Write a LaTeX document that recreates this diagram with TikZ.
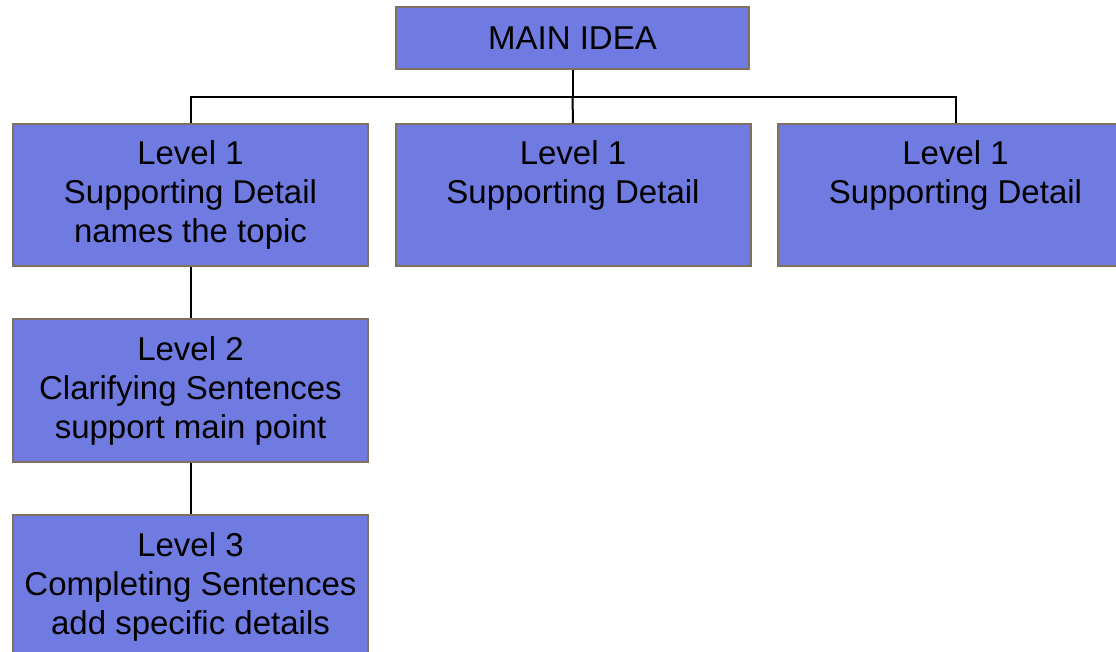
\documentclass[tikz,border=0pt]{standalone}
\usepackage{fontspec}
\setmainfont{Liberation Sans}
\definecolor{boxfill}{RGB}{111,123,224}
\definecolor{boxline}{RGB}{128,112,96}
\begin{document}
\begin{tikzpicture}[x=1pt,y=-1pt,
  orgbox/.style={draw=boxline,line width=2pt,fill=boxfill,
    minimum width=355pt,minimum height=142pt,inner sep=0pt,
    align=center,font=\fontsize{33}{39}\selectfont},
  link/.style={draw=black,line width=2pt}]
\useasboundingbox (0,0) rectangle (1116,651);
\clip (0,0) rectangle (1116,651);
\fill[white] (0,0) rectangle (1116,651);
% top node
\node[orgbox,minimum width=353pt,minimum height=62pt] (main) at (572.5,38) {MAIN IDEA};
% first level
\node[orgbox] (l1a) at (190.5,195) {Level 1\\Supporting Detail\\names the topic};
\node[orgbox] (l1b) at (573,195) {Level 1\\Supporting Detail\\\vphantom{p}};
\node[orgbox] (l1c) at (955.5,195) {Level 1\\Supporting Detail\\\vphantom{p}};
% lower levels
\node[orgbox,minimum height=143pt] (l2) at (190.5,390.5) {Level 2\\Clarifying Sentences\\support main point};
\node[orgbox,minimum height=143pt] (l3) at (190.5,586.5) {Level 3\\Completing Sentences\\add specific details};
% connectors
\draw[link] (main.south) -- ++(0,27) coordinate (busmid);
\draw[link] (busmid) -| (l1a.north);
\draw[link] (busmid) -| (l1c.north);
\draw[link] (busmid) -- (l1b.north);
\draw[link] (l1a.south) -- (l2.north);
\draw[link] (l2.south) -- (l3.north);
\end{tikzpicture}
\end{document}
